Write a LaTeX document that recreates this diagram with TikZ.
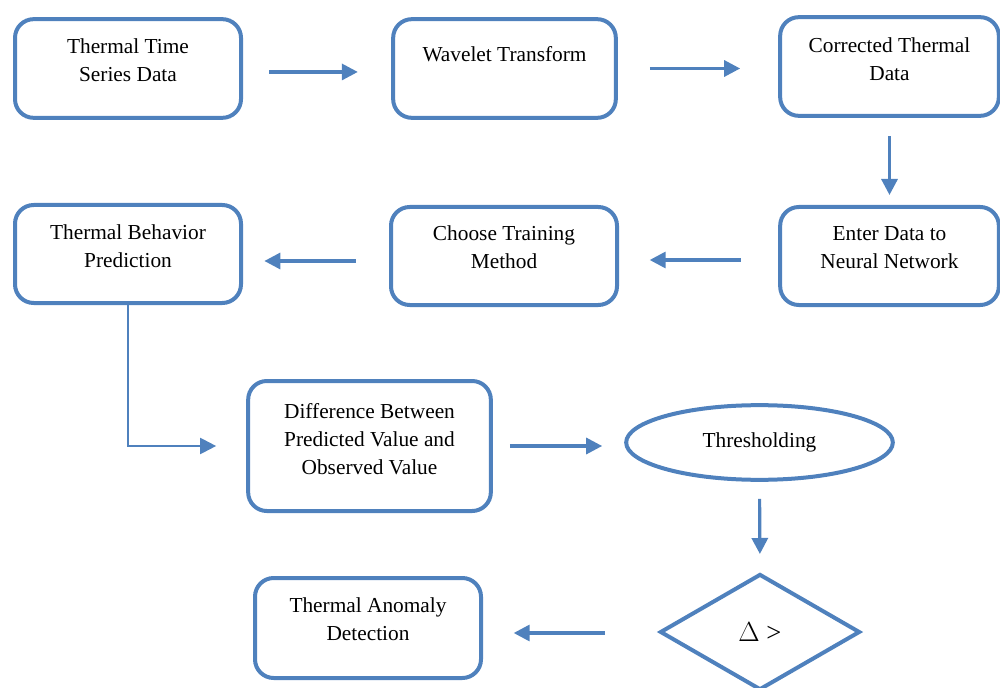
\documentclass[tikz,border=0pt]{standalone}
\usepackage{fontspec}
\setmainfont{Liberation Serif}
\usetikzlibrary{arrows.meta,shapes.geometric}
\definecolor{flowblue}{HTML}{4F81BD}

\begin{document}
\begin{tikzpicture}[x=0.75pt,y=-0.75pt,>={Triangle[length=12pt,width=12pt]},stage/.style={rectangle,rounded corners=14pt,draw=flowblue,line width=3pt,minimum width=169.5pt,minimum height=74pt},lbl/.style={align=center,font=\fontsize{16pt}{21pt}\selectfont},flow/.style={->,draw=flowblue,line width=2.4pt}]

            \useasboundingbox (0,0) rectangle (1000,688);

            \node[stage, label={[lbl, yshift=6pt]center:Thermal Time\\Series Data}] (series) at (128,68.5) {};
            \node[stage, minimum width=167pt, label={[lbl, yshift=11pt]center:Wavelet Transform}] (wavelet) at (504.5,68.5) {};
            \node[stage, minimum width=164pt, label={[lbl, yshift=5.5pt]center:Corrected Thermal\\Data}] (corrected) at (889.5,66.5) {};

            \node[stage, minimum width=164pt, minimum height=73.5pt, label={[lbl, yshift=6.5pt]center:Enter Data to\\Neural Network}] (enter) at (889.5,256) {};
            \node[stage, minimum height=73.5pt, label={[lbl, yshift=6.5pt]center:Choose Training\\Method}] (training) at (504,256) {};
            \node[stage, minimum height=73.5pt, label={[lbl, yshift=5.5pt]center:Thermal Behavior\\Prediction}] (prediction) at (128,254) {};

            \node[stage, minimum width=182pt, minimum height=97.5pt, label={[lbl, yshift=5.5pt]center:Difference Between\\Predicted Value and\\Observed Value}] (difference) at (369.5,446) {};
            \node[ellipse, draw=flowblue, line width=3pt, minimum width=200pt, minimum height=56pt, lbl] (threshold) at (759.5,442.5) {\raisebox{2pt}{Thresholding}};

            \node[diamond, aspect=1.7, draw=flowblue, line width=3pt, minimum width=150pt, minimum height=87pt, font=\fontsize{20pt}{24pt}\selectfont] (delta) at (760,632) {$\Delta$ >};
            \node[stage, minimum height=75pt, label={[lbl, yshift=6.5pt]center:Thermal Anomaly\\Detection}] (anomaly) at (368,628) {};

            \draw[flow, shorten <=19.5pt, shorten >=25pt] ([yshift=-2.6pt]series.east) -- ([yshift=-2.6pt]series.east -| wavelet.west);
            \draw[flow, shorten <=24pt, shorten >=28.5pt] (wavelet.east) -- (wavelet.east -| corrected.west);
            \draw[flow, shorten <=14pt, shorten >=7.5pt] (corrected.south) -- (enter.north);
            \draw[flow, shorten <=28pt, shorten >=23pt] ([yshift=-3pt]enter.west) -- ([yshift=-3pt]enter.west -| training.east);
            \draw[flow, shorten <=25pt, shorten >=16pt] ([yshift=-3.75pt]training.west) -- ([yshift=-3.75pt]training.west -| prediction.east);
            \draw[flow, line width=1.6pt, shorten >=22.5pt] (prediction.south) |- (difference.west);
            \draw[flow, shorten <=12.75pt, shorten >=16.5pt] (difference.east) -- (difference.east -| threshold.west);
            \draw[flow, shorten <=12.75pt, shorten >=13.5pt] (threshold.south) -- (delta.north);
            \draw[flow, shorten <=40pt, shorten >=23pt] ([yshift=-0.75pt]delta.west) -- ([yshift=-0.75pt]delta.west -| anomaly.east);
        \end{tikzpicture}
\end{document}
